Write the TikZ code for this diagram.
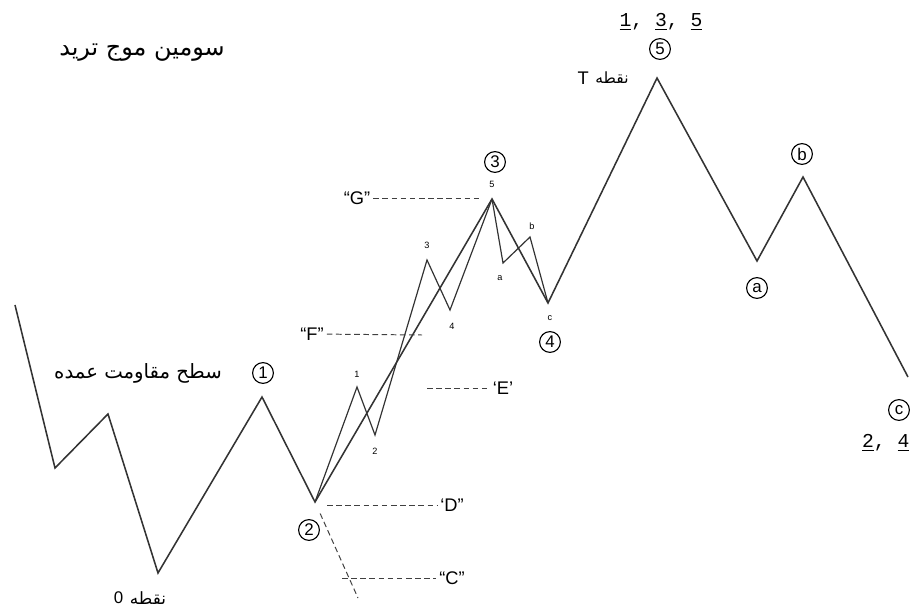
\documentclass[tikz,border=0pt]{standalone}
\usepackage{fontspec}
\setmainfont{Liberation Sans}
\newfontfamily\arabicfont[Script=Arabic]{DejaVu Sans}
\newfontfamily\typefont{Liberation Mono}
\TeXXeTstate=1
\usetikzlibrary{positioning}

\begin{document}
\begin{tikzpicture}[x=0.025cm,y=-0.025cm,line join=miter,
  wave/.style={line width=1.1pt,black!80},
  subwave/.style={line width=0.85pt,black!80},
  level/.style={dash pattern=on 4pt off 2.5pt,line width=0.7pt,black!75},
  ring/.style={circle,draw,line width=0.8pt,inner sep=0pt,minimum size=0.52cm,font=\fontsize{12}{12}\selectfont},
  tick/.style={font=\fontsize{6.5}{6.5}\selectfont,inner sep=1pt},
  tag/.style={font=\fontsize{13}{13}\selectfont,inner sep=2pt},
  fa/.style={font=\arabicfont\fontsize{17}{17}\selectfont,inner sep=0pt}]
 \useasboundingbox (0,0) rectangle (912,609);
 % points of the main wave
 \coordinate (m0) at (15,305);
 \coordinate (m1) at (55,468);
 \coordinate (m2) at (108,414);
 \coordinate (zero) at (158,573);
 \coordinate (w1) at (262,397);
 \coordinate (w2) at (315,502);
 \coordinate (w3) at (492,199);
 \coordinate (w4) at (548,303);
 \coordinate (w5) at (657,78);
 \coordinate (wa) at (757,261);
 \coordinate (wb) at (803,177);
 \coordinate (wc) at (908,377);
 % sub waves
 \coordinate (s1) at (357,387);
 \coordinate (s2) at (375,435);
 \coordinate (s3) at (427,260);
 \coordinate (s4) at (450,310);
 \coordinate (sa) at (503,263);
 \coordinate (sb) at (530,237);
 \draw[wave] (m0) -- (m1) -- (m2) -- (zero) -- (w1) -- (w2) -- (w3) -- (w4) -- (w5) -- (wa) -- (wb) -- (wc);
 \draw[subwave] (w2) -- (s1) -- (s2) -- (s3) -- (s4) -- (w3);
 \draw[subwave] (w3) -- (sa) -- (sb) -- (w4);
 % circled wave labels
 \node[ring] (r1) at (263,373) {1};
 \node[ring] (r2) at (309,530) {2};
 \node[ring] (r3) at (495,162) {3};
 \node[ring] (r4) at (550,342) {4};
 \node[ring] (r5) at (660,49) {5};
 \node[ring] (ra) at (757,288) {a};
 \node[ring] (rb) at (802,154) {b};
 \node[ring] (rc) at (899,410) {c};
 \foreach \t/\x/\y in {1/357/374,2/375/451,3/427/245,4/452/326,5/492/184,a/500/278,b/532/226,c/550/318}
   \node[tick] (t\t) at (\x,\y) {\t};
 % levels
 \node[tag] (G) at (357,198) {“G”};
 \node[tag] (F) at (312,334) {“F”};
 \node[tag] (E) at (503,388) {‘E’};
 \node[tag] (D) at (452,505) {‘D”};
 \node[tag] (C) at (452,578) {“C”};
 \coordinate (fend) at (422,335);
 \coordinate (estart) at (427,388);
 \coordinate (dstart) at (327,505);
 \coordinate (cstart) at (342,578);
 \coordinate (dtail) at (358,598);
 \draw[level,shorten >=7pt] (G) -- (G -| w3);
 \draw[level] (F) -- (fend);
 \draw[level] (estart) -- (E);
 \draw[level] (dstart) -- (D);
 \draw[level] (cstart) -- (C);
 \draw[level,shorten <=9pt] (w2) -- (dtail);
 % texts
 \node[font=\typefont\fontsize{14}{14}\selectfont] (top) at (661,22) {\underline{1}, \underline{3}, \underline{5}};
 \node[font=\typefont\fontsize{14}{14}\selectfont,anchor=east,inner sep=1pt] (low) at (911,443) {\underline{2}, \underline{4}};
 \node[fa] (title) at (142,53) {\beginR سومین موج ترید\endR};
 \node[fa,font=\arabicfont\fontsize{14}{14}\selectfont] (resist) at (138,373) {\beginR سطح مقاومت عمده\endR};
 \node[fa,font=\arabicfont\fontsize{11}{11}\selectfont] (ptT) at (612,78) {\beginR نقطه\endR};
 \node[font=\fontsize{13}{13}\selectfont,left=1pt of ptT] (T) {T};
 \node[fa,font=\arabicfont\fontsize{12}{12}\selectfont] (pt0) at (148,598) {\beginR نقطه\endR};
 \node[font=\fontsize{12}{12}\selectfont,left=1pt of pt0] (O) {0};
\end{tikzpicture}
\end{document}
